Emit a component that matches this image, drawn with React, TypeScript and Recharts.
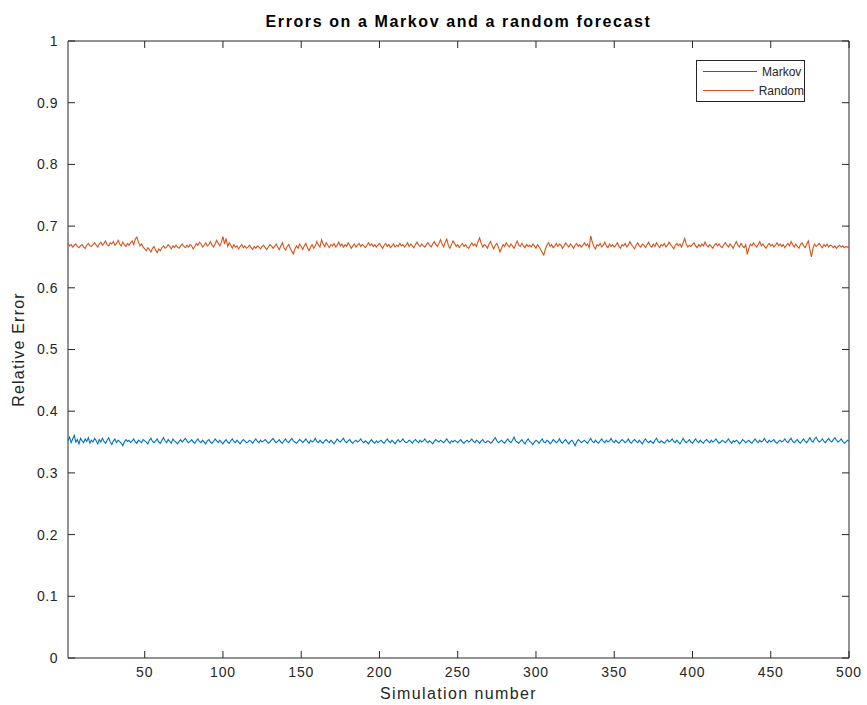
import { LineChart, Line, XAxis, YAxis, ReferenceArea } from "recharts";

// relative error per simulation run
const markov = [
  0.352, 0.358, 0.349, 0.355, 0.361, 0.350, 0.354, 0.347, 0.356, 0.352, 0.349, 0.355, 0.351, 0.357, 0.348, 0.353, 0.350, 0.356, 0.352, 0.347, 0.354, 0.350, 0.356, 0.351, 0.348, 0.353, 0.357, 0.350, 0.346, 0.352, 0.355, 0.349, 0.353, 0.351, 0.348, 0.344, 0.350, 0.354, 0.351, 0.353, 0.349, 0.352, 0.355, 0.350, 0.348, 0.353, 0.351, 0.349, 0.354, 0.352,
  0.350, 0.347, 0.353, 0.356, 0.351, 0.349, 0.352, 0.355, 0.350, 0.348, 0.353, 0.357, 0.352, 0.349, 0.354, 0.351, 0.348, 0.355, 0.352, 0.350, 0.347, 0.351, 0.354, 0.350, 0.353, 0.356, 0.352, 0.349, 0.351, 0.354, 0.350, 0.348, 0.352, 0.355, 0.351, 0.349, 0.353, 0.350, 0.347, 0.352, 0.354, 0.350, 0.348, 0.351, 0.355, 0.352, 0.349, 0.353, 0.350, 0.347,
  0.351, 0.354, 0.350, 0.348, 0.352, 0.355, 0.351, 0.349, 0.353, 0.350, 0.347, 0.351, 0.354, 0.352, 0.349, 0.350, 0.353, 0.351, 0.348, 0.352, 0.355, 0.351, 0.349, 0.353, 0.350, 0.352, 0.354, 0.351, 0.348, 0.350, 0.353, 0.356, 0.352, 0.349, 0.351, 0.354, 0.350, 0.348, 0.352, 0.355, 0.351, 0.349, 0.353, 0.356, 0.352, 0.350, 0.348, 0.351, 0.354, 0.352,
  0.349, 0.352, 0.355, 0.351, 0.348, 0.353, 0.350, 0.352, 0.356, 0.351, 0.349, 0.353, 0.350, 0.348, 0.352, 0.354, 0.351, 0.349, 0.353, 0.350, 0.347, 0.351, 0.355, 0.352, 0.350, 0.353, 0.356, 0.351, 0.349, 0.352, 0.354, 0.350, 0.348, 0.351, 0.353, 0.350, 0.352, 0.355, 0.351, 0.349, 0.352, 0.350, 0.347, 0.351, 0.354, 0.350, 0.348, 0.352, 0.349, 0.351,
  0.353, 0.350, 0.348, 0.352, 0.355, 0.351, 0.349, 0.353, 0.350, 0.347, 0.351, 0.354, 0.350, 0.352, 0.355, 0.351, 0.349, 0.350, 0.353, 0.351, 0.348, 0.352, 0.354, 0.351, 0.349, 0.353, 0.350, 0.352, 0.355, 0.351, 0.349, 0.352, 0.350, 0.347, 0.351, 0.354, 0.352, 0.350, 0.353, 0.351, 0.349, 0.352, 0.355, 0.351, 0.348, 0.352, 0.350, 0.353, 0.351, 0.349,
  0.352, 0.354, 0.350, 0.348, 0.351, 0.353, 0.350, 0.352, 0.355, 0.351, 0.349, 0.353, 0.351, 0.348, 0.352, 0.354, 0.350, 0.349, 0.352, 0.351, 0.348, 0.350, 0.354, 0.357, 0.352, 0.349, 0.351, 0.353, 0.350, 0.348, 0.352, 0.355, 0.351, 0.349, 0.353, 0.358, 0.352, 0.350, 0.348, 0.351, 0.354, 0.350, 0.347, 0.352, 0.355, 0.351, 0.349, 0.346, 0.350, 0.353,
  0.351, 0.348, 0.352, 0.355, 0.350, 0.349, 0.353, 0.351, 0.347, 0.350, 0.354, 0.352, 0.349, 0.351, 0.355, 0.350, 0.348, 0.352, 0.354, 0.350, 0.347, 0.351, 0.353, 0.349, 0.344, 0.350, 0.354, 0.352, 0.349, 0.351, 0.353, 0.350, 0.348, 0.352, 0.356, 0.351, 0.349, 0.353, 0.350, 0.348, 0.352, 0.355, 0.351, 0.349, 0.353, 0.350, 0.352, 0.356, 0.351, 0.349,
  0.353, 0.350, 0.348, 0.351, 0.354, 0.352, 0.349, 0.351, 0.355, 0.350, 0.348, 0.352, 0.354, 0.351, 0.349, 0.353, 0.350, 0.347, 0.352, 0.355, 0.351, 0.349, 0.352, 0.350, 0.348, 0.353, 0.356, 0.351, 0.349, 0.352, 0.350, 0.348, 0.351, 0.354, 0.350, 0.352, 0.355, 0.351, 0.349, 0.353, 0.350, 0.347, 0.351, 0.356, 0.352, 0.349, 0.351, 0.354, 0.350, 0.348,
  0.352, 0.355, 0.351, 0.349, 0.353, 0.350, 0.348, 0.352, 0.354, 0.351, 0.349, 0.353, 0.350, 0.352, 0.355, 0.351, 0.348, 0.350, 0.353, 0.351, 0.349, 0.352, 0.355, 0.351, 0.348, 0.352, 0.350, 0.353, 0.351, 0.347, 0.350, 0.354, 0.352, 0.349, 0.351, 0.353, 0.350, 0.348, 0.352, 0.355, 0.351, 0.349, 0.353, 0.350, 0.352, 0.356, 0.351, 0.349, 0.353, 0.350,
  0.352, 0.354, 0.350, 0.348, 0.351, 0.353, 0.350, 0.352, 0.355, 0.351, 0.349, 0.353, 0.356, 0.351, 0.349, 0.352, 0.354, 0.350, 0.348, 0.352, 0.355, 0.351, 0.349, 0.353, 0.357, 0.352, 0.350, 0.355, 0.358, 0.353, 0.350, 0.352, 0.355, 0.351, 0.349, 0.353, 0.356, 0.352, 0.350, 0.354, 0.357, 0.353, 0.350, 0.352, 0.355, 0.351, 0.348, 0.350, 0.353, 0.351,
];

const random = [
  0.672, 0.668, 0.670, 0.666, 0.669, 0.671, 0.667, 0.665, 0.668, 0.670, 0.666, 0.664, 0.669, 0.672, 0.668, 0.667, 0.670, 0.673, 0.669, 0.666, 0.671, 0.674, 0.669, 0.672, 0.676, 0.670, 0.668, 0.673, 0.671, 0.675, 0.669, 0.672, 0.677, 0.671, 0.668, 0.674, 0.670, 0.667, 0.672, 0.669, 0.673, 0.676, 0.670, 0.679, 0.682, 0.674, 0.668, 0.671, 0.666, 0.663,
  0.660, 0.665, 0.662, 0.658, 0.664, 0.667, 0.661, 0.657, 0.663, 0.660, 0.665, 0.668, 0.664, 0.666, 0.670, 0.667, 0.663, 0.668, 0.665, 0.669, 0.666, 0.664, 0.668, 0.671, 0.667, 0.665, 0.669, 0.666, 0.670, 0.668, 0.663, 0.667, 0.672, 0.669, 0.674, 0.671, 0.666, 0.669, 0.673, 0.668, 0.670, 0.675, 0.669, 0.666, 0.671, 0.677, 0.672, 0.668, 0.674, 0.683,
  0.671, 0.680, 0.667, 0.673, 0.669, 0.664, 0.670, 0.666, 0.668, 0.663, 0.667, 0.670, 0.665, 0.668, 0.664, 0.666, 0.669, 0.665, 0.662, 0.667, 0.664, 0.668, 0.666, 0.663, 0.667, 0.669, 0.665, 0.662, 0.666, 0.670, 0.668, 0.664, 0.667, 0.671, 0.666, 0.662, 0.668, 0.673, 0.665, 0.661, 0.667, 0.670, 0.664, 0.659, 0.655, 0.663, 0.668, 0.664, 0.671, 0.667,
  0.662, 0.668, 0.672, 0.665, 0.660, 0.666, 0.670, 0.664, 0.668, 0.675, 0.669, 0.666, 0.678, 0.671, 0.667, 0.673, 0.669, 0.665, 0.670, 0.668, 0.672, 0.666, 0.669, 0.674, 0.668, 0.671, 0.666, 0.670, 0.667, 0.673, 0.669, 0.664, 0.668, 0.671, 0.666, 0.669, 0.672, 0.667, 0.670, 0.668, 0.665, 0.669, 0.673, 0.668, 0.671, 0.667, 0.670, 0.666, 0.669, 0.672,
  0.668, 0.664, 0.669, 0.672, 0.667, 0.670, 0.665, 0.668, 0.671, 0.666, 0.669, 0.667, 0.672, 0.668, 0.670, 0.666, 0.669, 0.673, 0.667, 0.671, 0.668, 0.665, 0.670, 0.674, 0.669, 0.667, 0.671, 0.668, 0.666, 0.670, 0.673, 0.669, 0.666, 0.671, 0.675, 0.670, 0.667, 0.672, 0.678, 0.671, 0.666, 0.674, 0.679, 0.669, 0.664, 0.670, 0.676, 0.672, 0.667, 0.670,
  0.665, 0.669, 0.672, 0.667, 0.670, 0.666, 0.664, 0.669, 0.673, 0.668, 0.671, 0.667, 0.675, 0.681, 0.672, 0.666, 0.670, 0.668, 0.664, 0.671, 0.675, 0.668, 0.663, 0.669, 0.672, 0.666, 0.658, 0.664, 0.670, 0.667, 0.673, 0.669, 0.666, 0.671, 0.668, 0.664, 0.670, 0.676, 0.669, 0.667, 0.672, 0.668, 0.665, 0.670, 0.667, 0.669, 0.666, 0.671, 0.668, 0.664,
  0.670, 0.666, 0.662, 0.657, 0.653, 0.663, 0.669, 0.673, 0.667, 0.670, 0.665, 0.668, 0.672, 0.667, 0.671, 0.669, 0.664, 0.668, 0.673, 0.669, 0.666, 0.671, 0.668, 0.664, 0.669, 0.672, 0.667, 0.670, 0.666, 0.669, 0.673, 0.668, 0.671, 0.665, 0.684, 0.674, 0.667, 0.663, 0.670, 0.668, 0.672, 0.666, 0.669, 0.674, 0.668, 0.665, 0.671, 0.667, 0.670, 0.666,
  0.669, 0.673, 0.667, 0.664, 0.670, 0.668, 0.672, 0.666, 0.669, 0.675, 0.670, 0.667, 0.663, 0.669, 0.673, 0.668, 0.666, 0.671, 0.669, 0.665, 0.670, 0.674, 0.668, 0.666, 0.671, 0.667, 0.673, 0.669, 0.665, 0.670, 0.668, 0.672, 0.666, 0.669, 0.674, 0.670, 0.667, 0.663, 0.669, 0.672, 0.668, 0.671, 0.666, 0.673, 0.680, 0.671, 0.666, 0.669, 0.667, 0.670,
  0.673, 0.668, 0.665, 0.670, 0.667, 0.671, 0.668, 0.674, 0.669, 0.666, 0.670, 0.667, 0.664, 0.669, 0.672, 0.668, 0.671, 0.667, 0.665, 0.670, 0.673, 0.669, 0.666, 0.671, 0.668, 0.664, 0.670, 0.675, 0.669, 0.666, 0.672, 0.668, 0.665, 0.670, 0.654, 0.664, 0.671, 0.668, 0.673, 0.669, 0.666, 0.670, 0.675, 0.668, 0.671, 0.667, 0.664, 0.669, 0.672, 0.668,
  0.670, 0.666, 0.669, 0.673, 0.668, 0.671, 0.667, 0.670, 0.665, 0.669, 0.672, 0.668, 0.675, 0.670, 0.666, 0.671, 0.667, 0.664, 0.670, 0.673, 0.668, 0.665, 0.671, 0.676, 0.662, 0.650, 0.664, 0.671, 0.667, 0.669, 0.672, 0.668, 0.665, 0.670, 0.667, 0.671, 0.666, 0.669, 0.668, 0.665, 0.668, 0.664, 0.667, 0.669, 0.666, 0.668, 0.665, 0.667, 0.666, 0.666,
];

const seriesNames = ["Markov", "Random"];
const seriesColors = ["#0072BD", "#D95319"];
const xTicks = [50, 100, 150, 200, 250, 300, 350, 400, 450, 500];
const yTicks = [0, 0.1, 0.2, 0.3, 0.4, 0.5, 0.6, 0.7, 0.8, 0.9, 1];

const data = markov.map((m, i) => ({ sim: i + 1, markov: m, random: random[i] }));

// plot box in page pixels
const LEFT = 68;
const RIGHT = 849;
const TOP = 41;
const BOTTOM = 658;
const INK = "#262626";
const FONT = "Helvetica, Arial, 'Liberation Sans', sans-serif";

const XTick = (props: any) => {
  const { x, payload } = props;
  return (
    <g>
      <line x1={x} x2={x} y1={BOTTOM} y2={BOTTOM - 7} stroke={INK} />
      <line x1={x} x2={x} y1={TOP} y2={TOP + 7} stroke={INK} />
      <text x={x} y={BOTTOM + 19} textAnchor="middle" fill={INK} fontSize={14} fontFamily={FONT} letterSpacing={0.8}>
        {payload.value}
      </text>
    </g>
  );
};

const YTick = (props: any) => {
  const { y, payload } = props;
  return (
    <g>
      <line x1={LEFT} x2={LEFT + 7} y1={y} y2={y} stroke={INK} />
      <line x1={RIGHT - 7} x2={RIGHT} y1={y} y2={y} stroke={INK} />
      <text x={LEFT - 10} y={y} dy="0.35em" textAnchor="end" fill={INK} fontSize={14} fontFamily={FONT} letterSpacing={0.5}>
        {payload.value}
      </text>
    </g>
  );
};

const LegendBox = () => (
  <div
    style={{
      position: "absolute",
      left: 696,
      top: 60,
      width: 107,
      height: 39,
      border: `1px solid ${INK}`,
      background: "#fff",
      fontFamily: FONT,
      fontSize: 12,
      color: INK,
      lineHeight: "18px",
      paddingTop: 1,
      boxSizing: "content-box",
    }}
  >
    {seriesNames.map((name, i) => (
      <div key={name} style={{ display: "flex", alignItems: "center", height: 19 }}>
        <span
          style={{
            display: "inline-block",
            width: 54,
            height: 0,
            borderTop: `1.5px solid ${seriesColors[i]}`,
            marginLeft: 6,
            marginRight: 5,
          }}
        />
        {name}
      </div>
    ))}
  </div>
);

export default function App() {
  return (
    <div style={{ position: "absolute", left: 0, top: 0, width: 867, height: 705, background: "#fff" }}>
      <div
        style={{
          position: "absolute",
          left: LEFT,
          width: RIGHT - LEFT,
          top: 13,
          textAlign: "center",
          fontFamily: FONT,
          fontWeight: "bold",
          fontSize: 16,
          letterSpacing: 1.6,
          color: "#000",
        }}
      >
        Errors on a Markov and a random forecast
      </div>
      <LineChart
        width={867}
        height={705}
        data={data}
        margin={{ top: TOP, right: 867 - RIGHT, bottom: 5, left: 8 }}
      >
        <XAxis
          dataKey="sim"
          type="number"
          domain={[1, 500]}
          ticks={xTicks}
          height={705 - 5 - BOTTOM}
          axisLine={false}
          tickLine={false}
          tick={<XTick />}
          interval={0}
          label={{
            value: "Simulation number",
            position: "insideBottom",
            offset: 1,
            fill: INK,
            fontSize: 16,
            fontFamily: FONT,
            letterSpacing: 1.4,
          }}
        />
        <YAxis
          type="number"
          domain={[0, 1]}
          ticks={yTicks}
          width={LEFT - 8}
          axisLine={false}
          tickLine={false}
          tick={<YTick />}
          interval={0}
          label={{
            value: "Relative Error",
            angle: -90,
            position: "insideLeft",
            offset: 10,
            fill: INK,
            fontSize: 16,
            fontFamily: FONT,
            letterSpacing: 1.2,
            style: { textAnchor: "middle" },
          }}
        />
        <ReferenceArea x1={1} x2={500} y1={0} y2={1} fill="none" stroke={INK} strokeWidth={1} />
        <Line type="linear" dataKey="markov" name={seriesNames[0]} stroke={seriesColors[0]} strokeWidth={1.1} dot={false} isAnimationActive={false} />
        <Line type="linear" dataKey="random" name={seriesNames[1]} stroke={seriesColors[1]} strokeWidth={1.1} dot={false} isAnimationActive={false} />
      </LineChart>
      <LegendBox />
    </div>
  );
}
